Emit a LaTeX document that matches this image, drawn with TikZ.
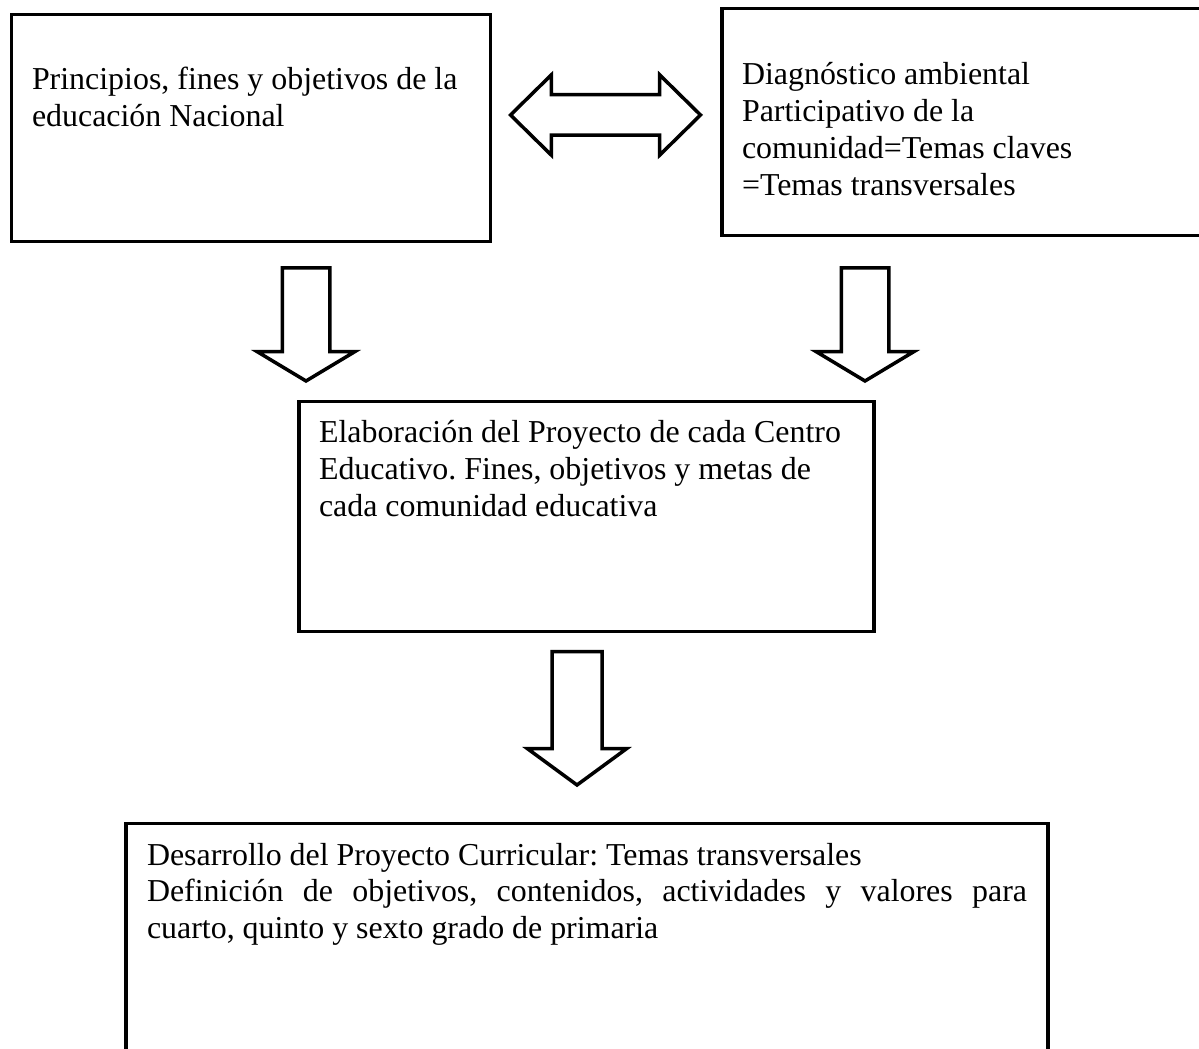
\documentclass[tikz,border=0pt]{standalone}
\usepackage{fontspec}
\setmainfont{Liberation Serif}
\usetikzlibrary{shapes,arrows}

\begin{document}
\begin{tikzpicture}
	\tikzstyle{caja}=[rectangle,draw=black,line width=0.035cm,outer sep=0pt,
	anchor=north west,inner xsep=0.2cm,inner ysep=0cm,align=justify,
	font=\fontsize{9.08pt}{10.44pt}\selectfont\frenchspacing]
	\tikzstyle{bajada}=[single arrow,draw=black,line width=0.035cm,outer sep=0pt,
	rotate=-90,anchor=tip,inner xsep=0cm,inner ysep=0.22cm,
	single arrow head extend=0.25cm,single arrow tip angle=118,
	minimum height=1.13cm]
	\tikzstyle{vaiven}=[double arrow,draw=black,line width=0.035cm,outer sep=0pt,
	inner xsep=0cm,inner ysep=0.185cm,double arrow head extend=0.2cm,
	double arrow tip angle=89,minimum height=1.90cm]

	\useasboundingbox (0,0) rectangle (11.99,-10.49);

	\node[caja,text width=4.38cm,inner xsep=0.205cm,text height=0.755cm,
	text depth=1.515cm] (c1) at (0.115,-0.145) {Principios, fines y objetivos de la\\
	educación Nacional};
	\node[caja,text width=4.58cm,text height=0.765cm,text depth=1.505cm] (c2)
	at (7.22,-0.085) {Diagnóstico ambiental\\ Participativo de la\\
	comunidad=Temas claves\\ =Temas transversales};
	\node[caja,text width=5.35cm,text height=0.413cm,text depth=1.887cm] (c3)
	at (2.99,-4.017) {Elaboración del Proyecto de cada Centro\\
	Educativo. Fines, objetivos y metas de\\ cada comunidad educativa};
	\node[caja,text width=8.80cm,inner xsep=0.21cm,
	text height=0.417cm,text depth=2.5cm] (c4) at (1.26,-8.233)
	{Desarrollo del Proyecto Curricular: Temas transversales\\
	Definición de objetivos, contenidos, actividades y valores para\linebreak
	cuarto, quinto y sexto grado de primaria};

	\node[vaiven] (f12) at (6.055,-1.15) {};
	\node[bajada] (f13) at (3.06,-3.81) {};
	\node[bajada] (f23) at (8.65,-3.81) {};
	\node[bajada,inner ysep=0.2325cm,single arrow head extend=0.245cm,
	single arrow tip angle=107.5,minimum height=1.335cm] (f34) at (5.77,-7.85) {};
\end{tikzpicture}
\end{document}
